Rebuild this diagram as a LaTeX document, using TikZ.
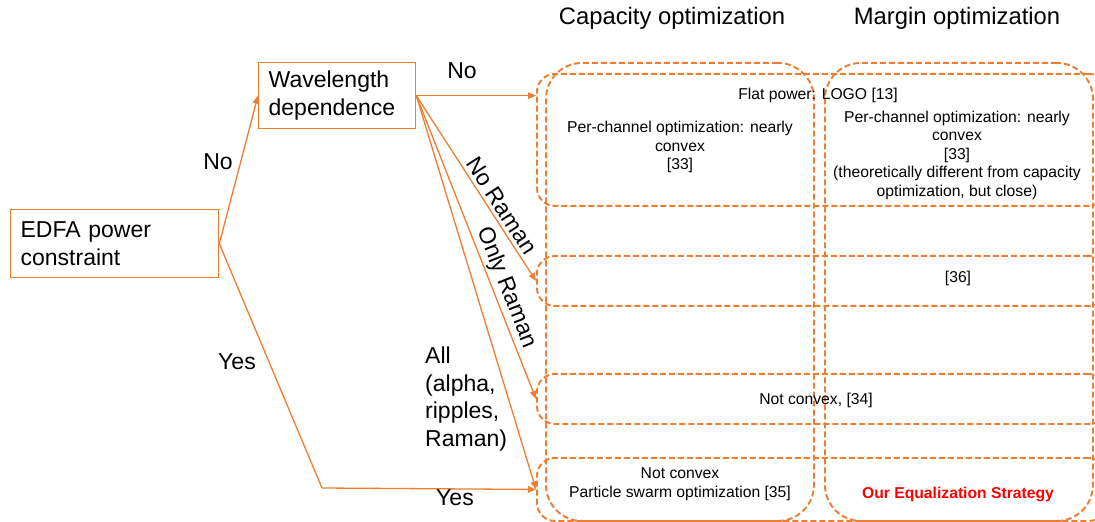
\documentclass[tikz,border=0pt]{standalone}
\usepackage{fontspec}
\setmainfont{Liberation Sans}
\usetikzlibrary{arrows.meta}
\definecolor{org}{HTML}{ED7D31}
\definecolor{ourred}{HTML}{FF0000}
\begin{document}
\begin{tikzpicture}[x=1bp,y=-1bp]
\tikzset{
 orgline/.style={draw=org, line width=1.3bp},
 arr/.style={orgline, -{Triangle[length=8bp,width=6.5bp]}},
 dbox/.style={draw=org, line width=1.9bp, dash pattern=on 6bp off 3bp, inner sep=0pt, anchor=north west},
 rowbox/.style={dbox, rounded corners=18bp, minimum width=570bp},
 colbox/.style={dbox, rounded corners=36bp, minimum width=268bp, minimum height=458bp},
 bigtxt/.style={font=\fontsize{23bp}{27.5bp}\selectfont, inner sep=1bp},
 headtxt/.style={font=\fontsize{23.8bp}{28bp}\selectfont, inner sep=1bp},
 solidbox/.style={bigtxt, draw=org, line width=1.3bp, anchor=north west, align=left, inner ysep=0pt, inner xsep=10bp},
 celltxt/.style={font=\fontsize{15.7bp}{18.5bp}\selectfont, align=center, inner sep=0pt},
}
\useasboundingbox (0,0) rectangle (1095,522);
\clip (0,0) rectangle (1095,522);

% headers
\node[headtxt] (h1) at (672,18) {Capacity optimization};
\node[headtxt] (h2) at (957,18) {Margin optimization};

% column boxes
\node[colbox] (c1) at (545,62) {};
\node[colbox] (c2) at (824,62) {};

% row boxes
\node[rowbox, minimum height=132bp] (r1) at (536,73) {};
\node[rowbox, minimum height=50bp] (r2) at (536,255) {};
\node[rowbox, minimum height=50bp] (r3) at (536,373) {};
\node[rowbox, minimum height=63bp] (r4) at (536,457) {};

% decision boxes
\node[solidbox, text width=188bp, minimum height=68bp] (edfa) at (10,209) {EDFA power\\constraint};
\node[solidbox, text width=137bp, minimum height=66bp] (wl) at (258,62) {Wavelength\\dependence};

% connectors
\coordinate (yc) at (322,488);
\draw[arr] (edfa.east) -- (wl.west);
\draw[orgline] (edfa.east) -- (yc);
\draw[arr] (yc) -- (r4.west);
\draw[arr] (wl.east) -- (r1.west |- wl.east);
\draw[arr] (wl.east) -- node[pos=0.63, sloped, above, bigtxt, inner sep=3.5bp] (lnr) {No Raman} (r2.west);
\draw[arr] (wl.east) -- node[pos=0.65, sloped, above, bigtxt, inner sep=2bp] (lor) {Only Raman} (r3.west);
\draw[arr] (wl.east) -- (r4.west);

% connector labels
\node[bigtxt] (lno1) at (218,162) {No};
\node[bigtxt] (lyes1) at (237,362) {Yes};
\node[bigtxt] (lno2) at (462,71) {No};
\node[bigtxt] (lyes2) at (455,498) {Yes};
\node[bigtxt, align=left, anchor=west] (lall) at (424,399) {All\\(alpha,\\ripples,\\Raman)};

% cell texts
\node[celltxt] (t0) at (818,95) {Flat power: LOGO [13]};
\node[celltxt] (t1) at (680,147) {Per-channel optimization: nearly\\convex\\{[33]}};
\node[celltxt] (t2) at (957,155) {Per-channel optimization: nearly\\convex\\{[33]}\\(theoretically different from capacity\\optimization, but close)};
\node[celltxt] (t3) at (958,278) {[36]};
\node[celltxt] (t4) at (816,400) {Not convex, [34]};
\node[celltxt] (t5) at (680,484) {Not convex\\Particle swarm optimization [35]};
\node[celltxt, font=\fontsize{15.7bp}{18.5bp}\selectfont\bfseries, text=ourred] (t6) at (958,494) {Our Equalization Strategy};
\end{tikzpicture}
\end{document}
